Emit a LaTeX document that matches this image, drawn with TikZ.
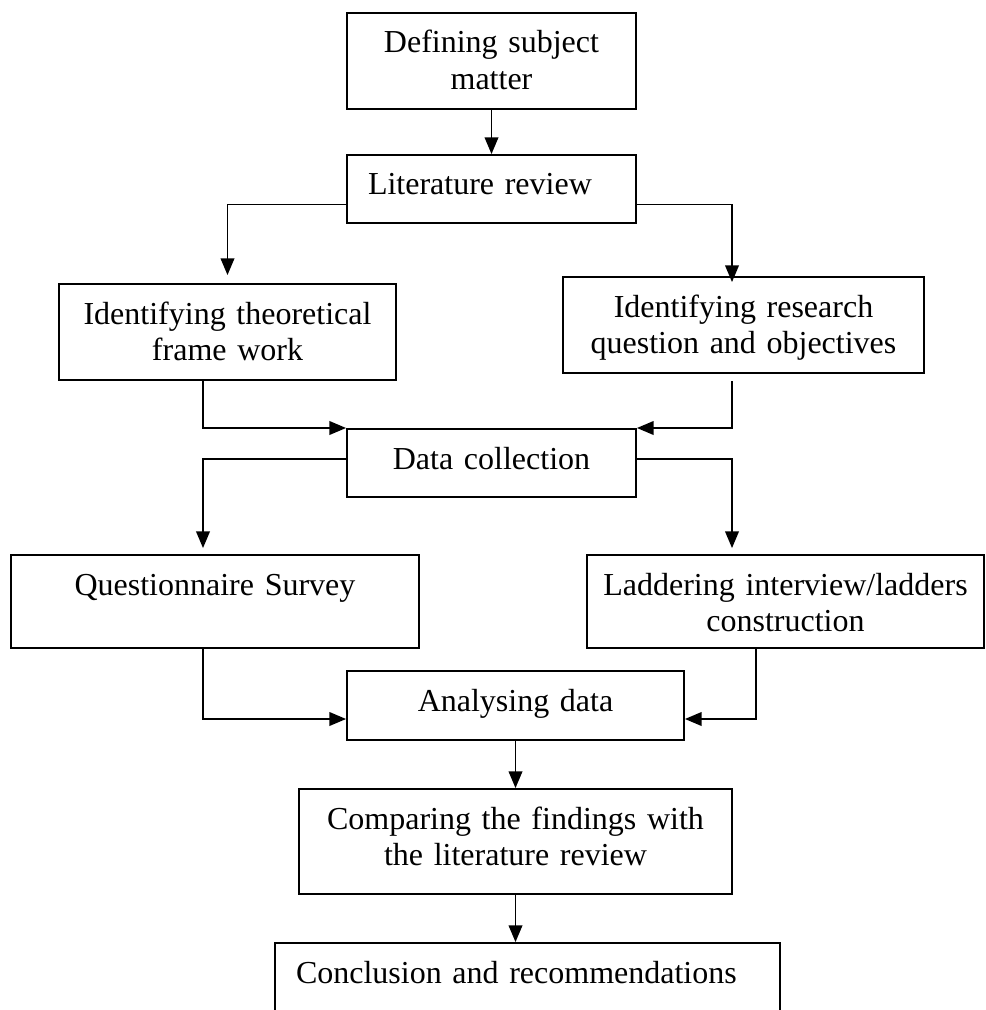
\documentclass[tikz,border=0pt]{standalone}
\usepackage{fontspec}
\setmainfont{Liberation Serif}
\usepackage{tikz}
\usetikzlibrary{arrows}

\begin{document}
\begin{tikzpicture}[x=0.5pt, y=-0.5pt]
\tikzstyle{stage} = [draw, line width=1pt, anchor=north, inner xsep=0pt, inner ysep=0pt,
  align=center, text height=20pt, font=\fontsize{16pt}{18.4pt}\selectfont]
\tikzstyle{flow} = [-triangle 45, line width=0.9pt]

\useasboundingbox (0,0) rectangle (985,1010);

\coordinate (lcol) at (203,0);
\coordinate (rcol) at (732,0);
\coordinate (rdrop) at (756,0);

\node[stage, text width=144.5pt, text depth=28pt] (define) at (491.5,12) {Defining subject\\ matter};
\node[stage, text width=123.5pt, inner xsep=10.5pt, align=left, text depth=14pt] (review) at (491.5,154) {Literature review};
\node[stage, text width=168.5pt, text depth=28pt] (theory) at (227.5,283) {Identifying theoretical\\ frame work};
\node[stage, text width=180.5pt, text depth=28pt] (question) at (743.5,276) {Identifying research\\ question and objectives};
\node[stage, text width=144.5pt, text depth=14pt] (collect) at (491.5,428) {Data collection};
\node[stage, text width=204pt, text depth=26.5pt] (survey) at (215,554) {Questionnaire Survey};
\node[stage, text width=198.5pt, text depth=26.5pt] (ladder) at (785.5,554) {Laddering interview/ladders\\ construction};
\node[stage, text width=168.5pt, text depth=14.5pt] (analyse) at (515.5,670) {Analysing data};
\node[stage, text width=216.5pt, text depth=32.5pt] (compare) at (515.5,788) {Comparing the findings with\\ the literature review};
\node[stage, text width=231.5pt, inner xsep=10.5pt, align=left, text depth=40pt] (conclude) at (527.5,942) {Conclusion and recommendations};

\draw[flow] (define) -- (review);
\draw[flow, shorten >=4pt] ([yshift=-7.75pt]review.west) -| (theory.north);
\draw[flow, shorten >=-3pt] ([yshift=-7.75pt]review.east) -| (question.north -| rcol);
\draw[flow] (theory.south -| lcol) |- (collect.north west);
\draw[flow, shorten <=3.5pt] (question.south -| rcol) |- (collect.north east);
\draw[flow, shorten >=3pt] ([yshift=2pt]collect.west) -| (survey.north -| lcol);
\draw[flow, shorten >=3pt] ([yshift=2pt]collect.east) -| (ladder.north -| rcol);
\draw[flow] (survey.south -| lcol) |- ([yshift=-6.75pt]analyse.west);
\draw[flow] (ladder.south -| rdrop) |- ([yshift=-6.75pt]analyse.east);
\draw[flow] (analyse) -- (compare);
\draw[flow] (compare) -- (compare.south |- conclude.north);
\end{tikzpicture}
\end{document}
